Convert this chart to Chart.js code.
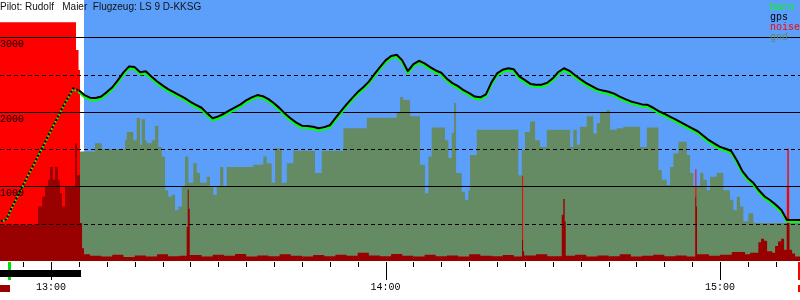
<!DOCTYPE html>
<html>
<head>
<meta charset="utf-8">
<title>Barogramm LS 9 D-KKSG</title>
<script src="https://cdn.jsdelivr.net/npm/chart.js@4.4.1/dist/chart.umd.min.js"></script>
<style>
    html, body { margin: 0; padding: 0; background: #fff; }
    #wrap { width: 800px; height: 300px; }
</style>
</head>
<body>
<div id="wrap"><canvas id="baroChart" width="800" height="300"></canvas></div>
<script>
// Flight data
const pilotTitle = 'Pilot: Rudolf   Maier  Flugzeug: LS 9 D-KKSG';

const axisStart = '12:50:51';
const axisEnd = '15:14:20';
const takeoffTime = '12:52:33';
const releaseTime = '13:06:00';
const engineRun = ['12:50:00', '13:05:23'];
const landingTime = '15:13:59';

const hourLabels = ['13:00', '14:00', '15:00'];
const solidLevels = [1000, 2000, 3000];
const dashedLevels = [500, 1500, 2500];
const altLabels = ['1000', '2000', '3000'];
const legendOrder = ['baro', 'gps', 'noise', 'gnd'];

const trackTimes = [
    '12:51', '12:52', '12:53', '12:54', '12:55', '12:56', '12:57', '12:58', '12:59',
    '13:00', '13:01', '13:02', '13:03', '13:04', '13:05', '13:06', '13:07', '13:08', '13:09',
    '13:10', '13:11', '13:12', '13:13', '13:14', '13:15', '13:16', '13:17', '13:18', '13:19',
    '13:20', '13:21', '13:22', '13:23', '13:24', '13:25', '13:26', '13:27', '13:28', '13:29',
    '13:30', '13:31', '13:32', '13:33', '13:34', '13:35', '13:36', '13:37', '13:38', '13:39',
    '13:40', '13:41', '13:42', '13:43', '13:44', '13:45', '13:46', '13:47', '13:48', '13:49',
    '13:50', '13:51', '13:52', '13:53', '13:54', '13:55', '13:56', '13:57', '13:58', '13:59',
    '14:00', '14:01', '14:02', '14:03', '14:04', '14:05', '14:06', '14:07', '14:08', '14:09',
    '14:10', '14:11', '14:12', '14:13', '14:14', '14:15', '14:16', '14:17', '14:18', '14:19',
    '14:20', '14:21', '14:22', '14:23', '14:24', '14:25', '14:26', '14:27', '14:28', '14:29',
    '14:30', '14:31', '14:32', '14:33', '14:34', '14:35', '14:36', '14:37', '14:38', '14:39',
    '14:40', '14:41', '14:42', '14:43', '14:44', '14:45', '14:46', '14:47', '14:48', '14:49',
    '14:50', '14:51', '14:52', '14:53', '14:54', '14:55', '14:56', '14:57', '14:58', '14:59',
    '15:00', '15:01', '15:02', '15:03', '15:04', '15:05', '15:06', '15:07', '15:08', '15:09',
    '15:10', '15:11', '15:12', '15:13', '15:14', '15:15'
];

const gpsAlt = [
    535, 560, 725, 870, 1020, 1165, 1310, 1460, 1605, 1755,
    1900, 2050, 2185, 2315, 2290, 2225, 2190, 2185, 2205, 2265,
    2330, 2425, 2530, 2610, 2600, 2530, 2545, 2475, 2410, 2355,
    2305, 2265, 2225, 2185, 2135, 2095, 2055, 1980, 1915, 1940,
    1975, 2020, 2060, 2100, 2155, 2195, 2225, 2210, 2170, 2115,
    2050, 1975, 1910, 1855, 1815, 1810, 1800, 1780, 1795, 1820,
    1915, 2010, 2100, 2185, 2265, 2330, 2405, 2505, 2600, 2690,
    2750, 2765, 2690, 2545, 2640, 2685, 2650, 2600, 2555, 2525,
    2445, 2385, 2345, 2290, 2250, 2205, 2195, 2235, 2395, 2515,
    2565, 2585, 2570, 2475, 2425, 2375, 2365, 2365, 2390, 2450,
    2535, 2585, 2550, 2490, 2435, 2385, 2345, 2305, 2285, 2270,
    2245, 2205, 2170, 2140, 2120, 2100, 2095, 2055, 2010, 1975,
    1935, 1900, 1860, 1820, 1780, 1740, 1680, 1620, 1575, 1530,
    1505, 1475, 1350, 1205, 1110, 1045, 945, 865, 815, 755,
    685, 550, 550, 550, 550
];

const baroAlt = [
    530, 555, 715, 865, 1010, 1160, 1300, 1455, 1595, 1750,
    1890, 2045, 2175, 2305, 2260, 2195, 2160, 2150, 2175, 2235,
    2300, 2390, 2500, 2580, 2570, 2500, 2510, 2445, 2380, 2325,
    2275, 2235, 2190, 2155, 2105, 2060, 2025, 1950, 1885, 1910,
    1945, 1990, 2030, 2070, 2125, 2165, 2195, 2180, 2140, 2085,
    2020, 1945, 1880, 1825, 1785, 1780, 1770, 1750, 1765, 1790,
    1885, 1980, 2070, 2155, 2235, 2300, 2375, 2475, 2570, 2660,
    2720, 2735, 2660, 2515, 2610, 2655, 2620, 2570, 2525, 2495,
    2415, 2355, 2315, 2260, 2220, 2175, 2165, 2205, 2365, 2485,
    2535, 2555, 2540, 2445, 2395, 2345, 2335, 2335, 2360, 2420,
    2505, 2555, 2520, 2460, 2405, 2355, 2315, 2275, 2255, 2240,
    2215, 2175, 2140, 2110, 2090, 2070, 2065, 2025, 1980, 1945,
    1905, 1870, 1830, 1790, 1750, 1710, 1650, 1590, 1545, 1500,
    1475, 1445, 1320, 1175, 1080, 1015, 915, 835, 785, 725,
    655, 525, 525, 525, 525
];

// terrain under the track, held until the next time stamp
const gndTimes = [
    '12:50:00', '12:55:00', '12:58:30', '13:02:00', '13:05:12', '13:07:53', '13:09:06', '13:13:16',
    '13:13:35', '13:14:46', '13:15:22', '13:15:58', '13:16:16', '13:16:52', '13:17:10', '13:18:04',
    '13:18:39', '13:19:15', '13:19:51', '13:20:27', '13:21:02', '13:21:39', '13:22:15', '13:22:50',
    '13:23:27', '13:24:02', '13:24:38', '13:25:31', '13:26:08', '13:26:44', '13:27:56', '13:28:31',
    '13:29:07', '13:29:43', '13:30:19', '13:30:54', '13:31:31', '13:36:17', '13:38:05', '13:38:41',
    '13:39:35', '13:40:11', '13:41:23', '13:42:17', '13:43:28', '13:47:21', '13:48:33', '13:52:26',
    '13:56:38', '14:02:00', '14:02:36', '14:03:11', '14:04:24', '14:06:11', '14:07:05', '14:07:41',
    '14:08:17', '14:10:40', '14:11:16', '14:11:52', '14:12:17', '14:12:39', '14:13:40', '14:14:15',
    '14:14:51', '14:15:09', '14:16:21', '14:23:49', '14:24:26', '14:25:01', '14:25:55', '14:26:49',
    '14:27:43', '14:28:55', '14:33:06', '14:33:41', '14:34:18', '14:34:53', '14:36:05', '14:37:16',
    '14:37:53', '14:38:28', '14:39:40', '14:40:16', '14:41:28', '14:42:39', '14:45:39', '14:46:51',
    '14:48:56', '14:49:32', '14:50:26', '14:51:02', '14:51:37', '14:52:31', '14:54:01', '14:54:37',
    '14:55:12', '14:56:25', '14:57:00', '14:57:37', '14:58:12', '14:59:24', '15:00:35', '15:01:47',
    '15:02:23', '15:02:59', '15:03:35', '15:04:11', '15:05:04', '15:05:58', '15:15:00'
];
const gndAlt = [
    480, 700, 1000, 1300, 1470, 1580, 1500, 1620,
    1730, 1620, 1920, 1560, 1900, 1620, 1580, 1620,
    1810, 1530, 1400, 950, 860, 890, 680, 730,
    1000, 1400, 1050, 1310, 1180, 1050, 1130, 1000,
    890, 1000, 1260, 1000, 1260, 1290, 1400, 1310,
    1050, 1510, 1050, 1310, 1480, 1180, 1480, 1780,
    1920, 1990, 2200, 2160, 1940, 1290, 910, 1400,
    1790, 1620, 1380, 1720, 2120, 1180, 930, 820,
    950, 1420, 1760, 1150, 1490, 1730, 1870, 1620,
    1530, 1760, 1530, 1760, 1560, 1800, 1940, 1710,
    1850, 1990, 2020, 1760, 1780, 1800, 1530, 1790,
    1220, 1090, 1020, 1260, 1440, 1600, 1420, 1180,
    1000, 1180, 1090, 950, 1130, 1180, 950, 820,
    680, 860, 730, 530, 640, 510, 510
];

// engine noise, shown in bright red
const noiseTimes = [
    '12:50:40', '13:04:29', '13:04:56', '13:05:12', '14:24:29', '14:24:40',
    '14:55:34', '14:55:45', '15:11:58', '15:12:04', '15:12:19', '15:12:26'
];
const noiseVals = [3200, 2830, 2560, 0, 1140, 0, 1230, 0, 1000, 1510, 1000, 0];

// background noise level, shown in dark red
const levelTimes = [
    '12:50:40', '12:57:40', '12:58:23', '12:58:55', '12:59:28', '12:59:49', '13:00:22', '13:00:43',
    '13:01:15', '13:01:37', '13:01:58', '13:02:31', '13:04:18', '13:04:40', '13:05:12', '13:05:34',
    '13:05:55', '13:07:00', '13:09:00', '13:11:00', '13:13:00', '13:15:00', '13:17:00', '13:19:00',
    '13:21:00', '13:23:00', '13:24:20', '13:24:31', '13:24:42', '13:24:53', '13:27:00', '13:29:00',
    '13:31:00', '13:33:00', '13:35:00', '13:37:00', '13:39:00', '13:41:00', '13:43:00', '13:45:00',
    '13:47:00', '13:49:00', '13:51:00', '13:53:00', '13:55:00', '13:57:00', '13:59:00', '14:01:00',
    '14:03:00', '14:05:00', '14:07:00', '14:09:00', '14:11:00', '14:13:00', '14:15:00', '14:17:00',
    '14:19:00', '14:21:00', '14:23:00', '14:24:29', '14:24:40', '14:24:51', '14:27:00', '14:29:00',
    '14:31:36', '14:31:53', '14:32:08', '14:32:19', '14:34:00', '14:36:00', '14:38:00', '14:40:00',
    '14:42:00', '14:44:00', '14:46:00', '14:48:00', '14:50:00', '14:52:00', '14:54:00', '14:55:34',
    '14:55:42', '14:55:52', '14:58:00', '15:00:00', '15:02:06', '15:04:29', '15:05:23', '15:06:52',
    '15:07:21', '15:07:53', '15:08:26', '15:09:20', '15:09:52', '15:10:24', '15:10:57', '15:11:29',
    '15:11:58', '15:12:26', '15:12:55', '15:13:27', '15:15:00'
];
const levelVals = [
    490, 730, 860, 1000, 1090, 1260, 1090, 1260,
    1090, 910, 730, 1000, 1580, 1150, 510, 170,
    90, 70, 60, 85, 55, 75, 60, 90,
    65, 70, 460, 960, 700, 80, 60, 85,
    70, 95, 60, 75, 65, 90, 70, 60,
    80, 65, 85, 70, 110, 75, 65, 95,
    70, 60, 85, 65, 75, 60, 90, 70,
    65, 80, 60, 280, 130, 75, 90, 65,
    620, 830, 530, 70, 85, 60, 75, 65,
    90, 60, 70, 85, 65, 75, 60, 860,
    730, 90, 70, 85, 120, 90, 110, 250,
    300, 270, 130, 110, 200, 260, 300, 150,
    510, 150, 100, 60, 60
];

const skyColor = '#5c9ffb';
const gndColor = '#658b65';

function toMin(t) {
    const [h, m, s] = t.split(':').map(Number);
    return h * 60 + m + (s || 0) / 60;
}

function toPoints(times, vals) {
    return times.map((t, i) => ({ x: toMin(t), y: vals[i] }));
}

const climbEnd = toMin(engineRun[1]);

// sky background, white until release
const skyPlugin = {
    id: 'sky',
    beforeDraw(chart) {
        const { ctx, chartArea: a, scales: { x } } = chart;
        ctx.save();
        ctx.fillStyle = '#fff';
        ctx.fillRect(0, 0, chart.width, chart.height);
        const sx = Math.round(x.getPixelForValue(toMin(releaseTime)));
        ctx.fillStyle = skyColor;
        ctx.fillRect(sx, a.top, a.right - sx, a.bottom - a.top);
        ctx.restore();
    }
};

// altitude lines go above terrain and noise, below the track
const levelLinesPlugin = {
    id: 'levelLines',
    beforeDatasetDraw(chart, args) {
        if (args.index !== 1) return;
        const { ctx, chartArea: a, scales: { y } } = chart;
        ctx.save();
        ctx.strokeStyle = '#000';
        ctx.lineWidth = 1;
        const drawLevel = (v, dash) => {
            const py = Math.round(y.getPixelForValue(v)) + 0.5;
            ctx.setLineDash(dash);
            ctx.beginPath();
            ctx.moveTo(a.left, py);
            ctx.lineTo(a.right, py);
            ctx.stroke();
        };
        solidLevels.forEach(v => drawLevel(v, []));
        dashedLevels.forEach(v => drawLevel(v, [4, 3]));
        ctx.restore();
    }
};

const overlayPlugin = {
    id: 'overlay',
    afterDraw(chart) {
        const { ctx, chartArea: a, scales: { x, y } } = chart;
        ctx.save();

        // title
        ctx.fillStyle = '#111';
        ctx.font = '10px "Liberation Sans"';
        ctx.textBaseline = 'alphabetic';
        ctx.textAlign = 'left';
        ctx.fillText(pilotTitle, 0, 10);

        // altitude labels
        ctx.font = '10px "Liberation Mono"';
        ctx.fillStyle = '#000';
        altLabels.forEach(l => {
            const py = Math.round(y.getPixelForValue(Number(l)));
            ctx.fillText(l, 0, py + 10);
        });

        // legend
        const widest = Math.max(...legendOrder.map(l => ctx.measureText(l).width));
        const lx = a.right - widest;
        legendOrder.forEach((label, i) => {
            const ds = chart.data.datasets.find(d => d.label === label);
            ctx.fillStyle = ds.legendColor;
            ctx.fillText(label, lx, 10 + i * 10);
        });

        // flight markers below the plot
        const bottom = a.bottom;
        const tx = x.getPixelForValue(toMin(takeoffTime));
        ctx.fillStyle = '#00dd00';
        ctx.fillRect(Math.round(tx) - 1, bottom + 1, 3, 18);
        ctx.fillStyle = '#990000';
        ctx.fillRect(a.left, bottom + 24, Math.round(tx) - a.left + 1, 7);

        const e0 = Math.max(a.left, x.getPixelForValue(toMin(engineRun[0])));
        const e1 = x.getPixelForValue(toMin(engineRun[1]));
        ctx.fillStyle = '#000';
        ctx.fillRect(e0, bottom + 9, e1 - e0, 7);

        const lnd = Math.round(x.getPixelForValue(toMin(landingTime)));
        ctx.fillStyle = '#ff0000';
        ctx.fillRect(lnd, bottom + 1, a.right - lnd, 18);
        ctx.fillRect(lnd, bottom + 24, a.right - lnd, 7);

        // time ticks every 5 minutes, long ones on the hour
        ctx.strokeStyle = '#000';
        ctx.lineWidth = 1;
        const step = 5;
        for (let m = Math.ceil(x.min / step) * step; m <= x.max; m += step) {
            const px = Math.round(x.getPixelForValue(m)) + 0.5;
            ctx.beginPath();
            ctx.moveTo(px, bottom + 1);
            ctx.lineTo(px, bottom + (m % 60 === 0 ? 19 : 6));
            ctx.stroke();
        }

        ctx.fillStyle = '#000';
        ctx.textAlign = 'center';
        hourLabels.forEach(l => {
            ctx.fillText(l, x.getPixelForValue(toMin(l)), bottom + 29);
        });

        ctx.restore();
    }
};

const climbDash = (dash, offset) => ({
    borderDash: c => (c.p1.parsed.x <= climbEnd ? dash : undefined),
    borderDashOffset: c => (c.p1.parsed.x <= climbEnd ? offset : 0)
});

const ctx = document.getElementById('baroChart');
new Chart(ctx, {
    type: 'line',
    data: {
        datasets: [
            {
                label: 'gps',
                legendColor: '#000000',
                data: toPoints(trackTimes, gpsAlt),
                borderColor: '#000000',
                borderWidth: 2,
                borderJoinStyle: 'round',
                fill: false,
                segment: climbDash([2, 2], 0)
            },
            {
                label: 'baro',
                legendColor: '#00ff00',
                data: toPoints(trackTimes, baroAlt),
                borderColor: '#00ff00',
                borderWidth: 2,
                borderJoinStyle: 'round',
                fill: false,
                segment: climbDash([2, 2], 2)
            },
            {
                label: 'noise level',
                legendColor: '#990000',
                data: toPoints(levelTimes, levelVals),
                stepped: 'before',
                borderWidth: 0,
                borderColor: 'rgba(0,0,0,0)',
                backgroundColor: '#990000',
                fill: 'origin'
            },
            {
                label: 'noise',
                legendColor: '#ff0000',
                data: toPoints(noiseTimes, noiseVals),
                stepped: 'before',
                borderWidth: 0,
                borderColor: 'rgba(0,0,0,0)',
                backgroundColor: '#ff0000',
                fill: 'origin'
            },
            {
                label: 'gnd',
                legendColor: gndColor,
                data: toPoints(gndTimes, gndAlt),
                stepped: 'before',
                borderWidth: 0,
                borderColor: 'rgba(0,0,0,0)',
                backgroundColor: gndColor,
                fill: 'origin'
            }
        ]
    },
    options: {
        responsive: false,
        animation: false,
        layout: { padding: { left: 0, right: 0, top: 0, bottom: 39 } },
        elements: { point: { radius: 0 }, line: { tension: 0 } },
        scales: {
            x: { type: 'linear', display: false, min: toMin(axisStart), max: toMin(axisEnd) },
            y: { type: 'linear', display: false, min: 0, max: 3500 }
        },
        plugins: {
            legend: { display: false },
            tooltip: { enabled: false }
        }
    },
    plugins: [skyPlugin, levelLinesPlugin, overlayPlugin]
});
</script>
</body>
</html>
